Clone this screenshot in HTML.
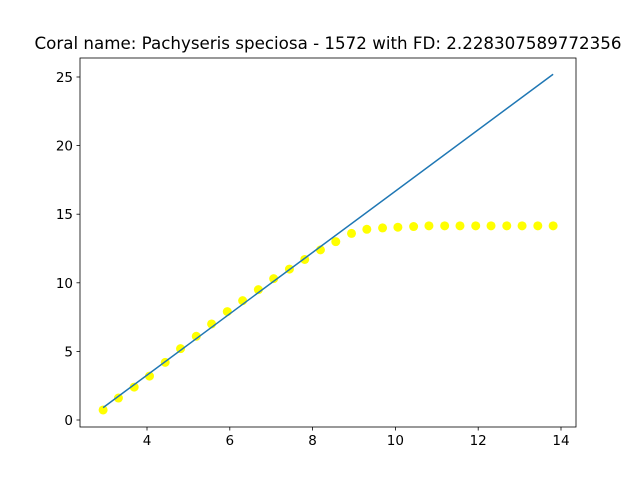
<!DOCTYPE html>
<html><head><meta charset="utf-8"><style>body{margin:0;background:#fff}svg{display:block;font-family:"DejaVu Sans","Liberation Sans",sans-serif}</style></head>
<body>
<svg id="chart" width="640" height="480" xmlns="http://www.w3.org/2000/svg">
<rect width="640" height="480" fill="#fff"/>
<text x="328" y="49" text-anchor="middle" font-size="16.7">Coral name: Pachyseris speciosa - 1572 with FD: 2.228307589772356</text>
<g id="plot"></g>
<rect x="80" y="58" width="496" height="369" fill="none" stroke="#000" stroke-width="0.8"/>
</svg>
<script>
const xs=[2.94,3.31,3.69,4.06,4.44,4.81,5.19,5.56,5.94,6.31,6.69,7.06,7.44,7.81,8.19,8.56,8.94,9.31,9.69,10.06,10.44,10.81,11.19,11.56,11.94,12.31,12.69,13.06,13.44,13.81];
const ys=[0.73,1.6,2.4,3.2,4.2,5.2,6.1,7.0,7.9,8.7,9.5,10.3,11.0,11.7,12.4,13.0,13.6,13.9,14.0,14.05,14.1,14.15,14.15,14.15,14.15,14.15,14.15,14.15,14.15,14.15];
const lineX=[2.94,13.81];
const lineY=[0.9,25.2];
const xTicks=[4,6,8,10,12,14];
const yTicks=[0,5,10,15,20,25];
const sx=v=>147+(v-4)*41.4;
const sy=v=>420-v*13.72;
const NS="http://www.w3.org/2000/svg";
const g=document.getElementById('plot');
function mk(t,a){const e=document.createElementNS(NS,t);for(const k in a)e.setAttribute(k,a[k]);g.appendChild(e);return e;}
xTicks.forEach(t=>{
 const l=mk('line',{x1:sx(t),x2:sx(t),y1:427,y2:430.5,stroke:'#000','stroke-width':0.8});
 
 
 const s=mk('text',{x:sx(t),y:445,'text-anchor':'middle','font-size':13.5});
 s.textContent=t;
 
 
});
yTicks.forEach(t=>{
 const l=mk('line',{x1:76.5,x2:80,y1:sy(t),y2:sy(t),stroke:'#000','stroke-width':0.8});
 
 
 const s=mk('text',{x:73,y:sy(t)+5,'text-anchor':'end','font-size':13.5});
 s.textContent=t;
 
 
});
xs.forEach((x,i)=>{
 const c=mk('circle',{cx:sx(x),cy:sy(ys[i]),r:4.5,fill:'#ffff00'});
 
 
});
const ln=mk('line',{x1:sx(lineX[0]),y1:sy(lineY[0]),x2:sx(lineX[1]),y2:sy(lineY[1]),stroke:'#1f77b4','stroke-width':1.5});


</script>
</body></html>
